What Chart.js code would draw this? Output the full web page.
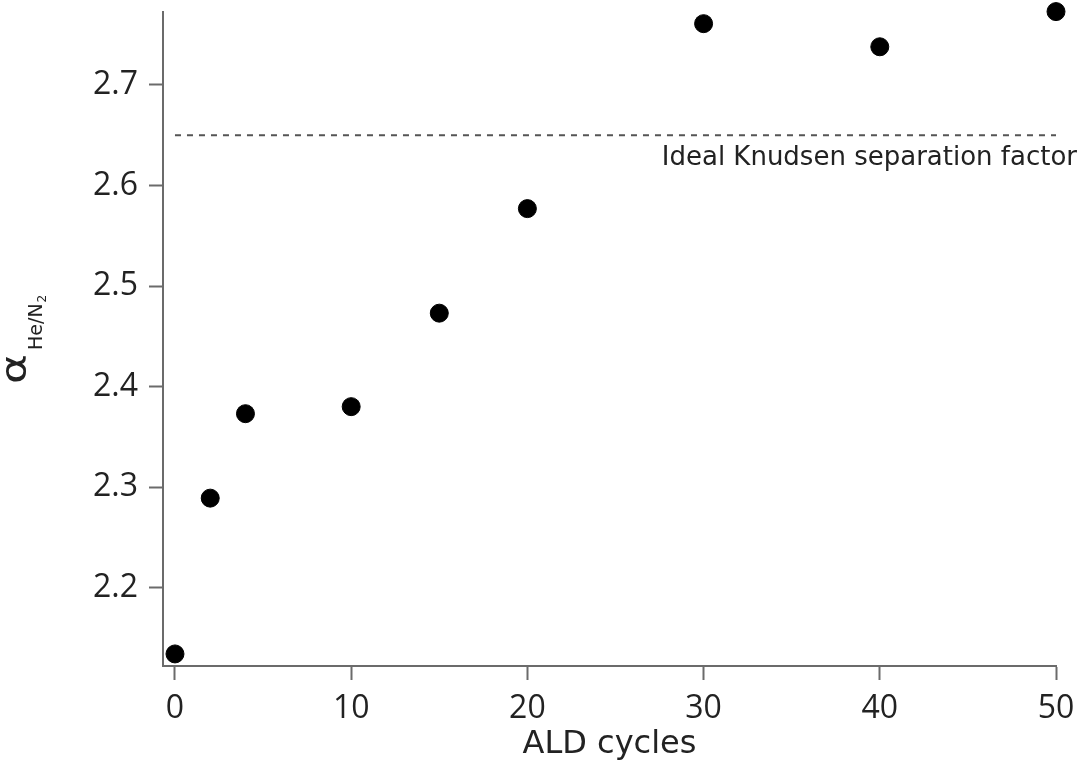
<!DOCTYPE html>
<html>
<head>
<meta charset="utf-8">
<script src="https://cdn.jsdelivr.net/npm/chart.js@4.4.1/dist/chart.umd.min.js"></script>
<style>
  html, body { margin: 0; padding: 0; background: #fff; }
  #wrap { width: 1082px; height: 772px; }
</style>
</head>
<body>
<div id="wrap"><canvas id="chart" width="1082" height="772"></canvas></div>
<script>
// ALD cycles vs He/N2 separation factor
const cycles = [0, 2, 4, 10, 15, 20, 30, 40, 50];
const alpha = [2.134, 2.289, 2.373, 2.380, 2.473, 2.577, 2.761, 2.738, 2.773];
const knudsenX = [0, 50];
const knudsenValue = 2.65;
const xTicks = [0, 10, 20, 30, 40, 50];
const yTicks = [2.2, 2.3, 2.4, 2.5, 2.6, 2.7];

const axisGray = '#6b6b6b';
const textColor = '#222';
const tickFont = '"Open Sans", "Noto Sans", sans-serif';
const labelFont = '"DejaVu Sans", sans-serif';

// y-axis title (alpha with He/N2 subscript) and the Knudsen label
const labelsPlugin = {
  id: 'labels',
  afterDraw(chart) {
    const ctx = chart.ctx;
    const y = chart.scales.y;
    ctx.save();
    ctx.fillStyle = textColor;

    // Knudsen label, right aligned under the dashed line
    ctx.font = '26px ' + labelFont;
    ctx.textAlign = 'right';
    ctx.textBaseline = 'alphabetic';
    ctx.fillText('Ideal Knudsen separation factor', 1077, y.getPixelForValue(knudsenValue) + 30);

    // rotated axis title
    ctx.translate(26, 384);
    ctx.rotate(-Math.PI / 2);
    ctx.textAlign = 'left';
    ctx.save();
    ctx.scale(1.3, 1);
    ctx.font = '35px ' + labelFont;
    ctx.fillText('α', 0, 0);
    ctx.restore();
    ctx.font = '19px ' + labelFont;
    ctx.fillText('He/N', 34, 16);
    const w = ctx.measureText('He/N').width;
    ctx.font = '12px ' + labelFont;
    ctx.fillText('2', 34 + w + 1, 20);
    ctx.restore();
  }
};

new Chart(document.getElementById('chart'), {
  type: 'scatter',
  data: {
    datasets: [
      {
        type: 'line',
        data: knudsenX.map(v => ({ x: v, y: knudsenValue })),
        borderColor: '#555',
        borderWidth: 2,
        borderDash: [6, 6],
        pointRadius: 0,
        fill: false
      },
      {
        data: cycles.map((c, i) => ({ x: c, y: alpha[i] })),
        backgroundColor: '#000',
        borderColor: '#000',
        pointRadius: 9,
        clip: false
      }
    ]
  },
  options: {
    responsive: false,
    animation: false,
    devicePixelRatio: 1,
    layout: { padding: { top: 12, right: 26, bottom: 0, left: 0 } },
    plugins: { legend: { display: false }, tooltip: { enabled: false } },
    scales: {
      x: {
        type: 'linear',
        min: -0.68,
        max: 50,
        afterBuildTicks: s => { s.ticks = xTicks.map(v => ({ value: v })); },
        afterFit: s => { s.height = 106; s.paddingLeft = 0; s.paddingRight = 0; },
        grid: { drawOnChartArea: false, tickLength: 14, tickColor: axisGray, tickWidth: 2 },
        border: { color: axisGray, width: 2 },
        ticks: { color: textColor, font: { family: tickFont, size: 32 }, padding: 10, maxRotation: 0 },
        title: {
          display: true,
          text: 'ALD cycles',
          color: textColor,
          font: { family: labelFont, size: 32 },
          padding: { top: 0, bottom: 8 }
        }
      },
      y: {
        min: 2.122,
        max: 2.7726,
        afterBuildTicks: s => { s.ticks = yTicks.map(v => ({ value: v })); },
        afterFit: s => { s.width = 163; s.paddingTop = 0; s.paddingBottom = 0; },
        grid: { drawOnChartArea: false, tickLength: 14, tickColor: axisGray, tickWidth: 2 },
        border: { color: axisGray, width: 2 },
        ticks: {
          color: textColor,
          font: { family: tickFont, size: 32 },
          padding: 11,
          callback: v => v.toFixed(1)
        }
      }
    }
  },
  plugins: [labelsPlugin]
});
</script>
</body>
</html>
